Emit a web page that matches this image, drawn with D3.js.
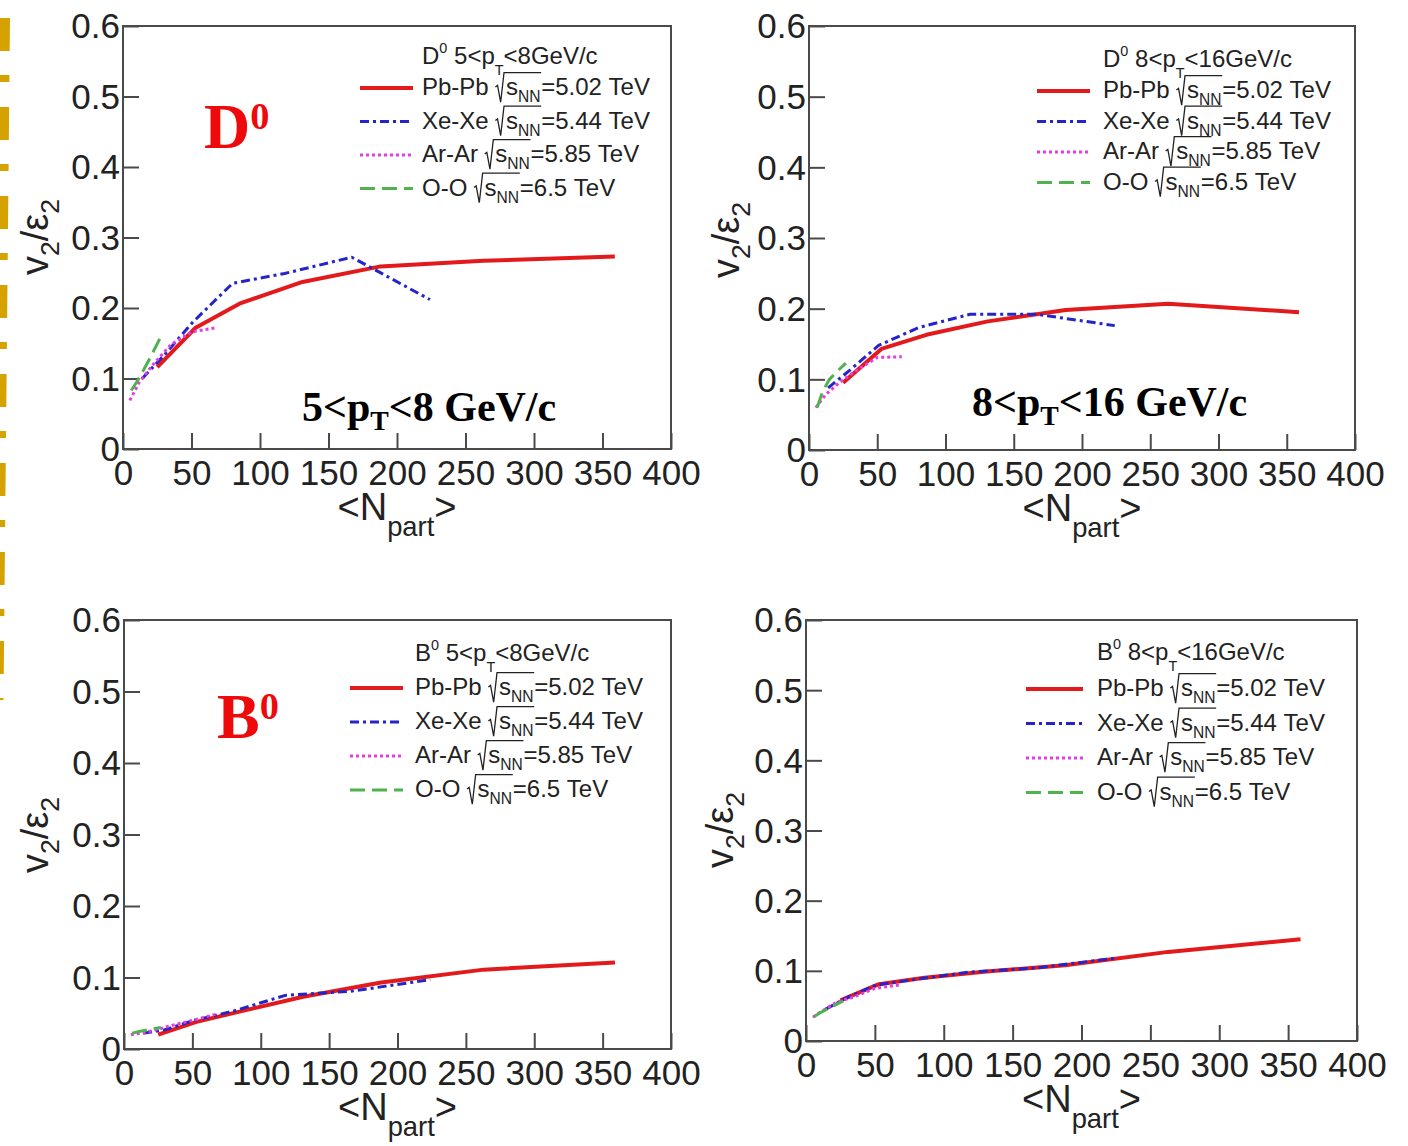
<!DOCTYPE html>
<html>
<head>
<meta charset="utf-8">
<script src="https://cdn.jsdelivr.net/npm/d3@7"></script>
<style>
  html, body { margin: 0; padding: 0; background: #fff; }
  svg { display: block; }
</style>
</head>
<body>
<svg id="chart" width="1408" height="1146"></svg>
<script>
// Mean number of participants at each centrality point, per collision system
const nPartPbPb = [25, 53, 86, 131, 188, 263, 359];
const nPartXeXe = [14, 30, 51, 80, 118, 167, 224];
const nPartArAr = [5, 12, 22, 35, 50, 68];
const nPartOO   = [6, 10, 15, 20, 27];

// v2/eps2 of D0, 5<pT<8 GeV/c
const d0LowPbPb = [0.116, 0.172, 0.207, 0.237, 0.259, 0.267, 0.273];
const d0LowXeXe = [0.100, 0.133, 0.180, 0.235, 0.249, 0.272, 0.212];
const d0LowArAr = [0.069, 0.095, 0.120, 0.148, 0.166, 0.172];
const d0LowOO   = [0.083, 0.095, 0.112, 0.130, 0.157];

// v2/eps2 of D0, 8<pT<16 GeV/c
const d0HighPbPb = [0.095, 0.143, 0.163, 0.182, 0.198, 0.207, 0.195];
const d0HighXeXe = [0.088, 0.113, 0.148, 0.173, 0.192, 0.192, 0.176];
const d0HighArAr = [0.060, 0.078, 0.095, 0.113, 0.131, 0.132];
const d0HighOO   = [0.060, 0.083, 0.100, 0.110, 0.123];

// v2/eps2 of B0, 5<pT<8 GeV/c
const b0LowPbPb = [0.020, 0.038, 0.053, 0.073, 0.093, 0.111, 0.121];
const b0LowXeXe = [0.022, 0.027, 0.040, 0.053, 0.075, 0.081, 0.097];
const b0LowArAr = [0.020, 0.022, 0.026, 0.033, 0.040, 0.049];
const b0LowOO   = [0.022, 0.024, 0.026, 0.028, 0.030];

// v2/eps2 of B0, 8<pT<16 GeV/c
const b0HighPbPb = [0.058, 0.081, 0.090, 0.099, 0.108, 0.127, 0.145];
const b0HighXeXe = [0.045, 0.062, 0.080, 0.088, 0.098, 0.104, 0.118];
const b0HighArAr = [0.034, 0.043, 0.055, 0.063, 0.075, 0.080];
const b0HighOO   = [0.035, 0.040, 0.045, 0.050, 0.057];

// Axis ticks and legend text
const xTickValues = [0, 50, 100, 150, 200, 250, 300, 350, 400];
const yTickValues = [0, 0.1, 0.2, 0.3, 0.4, 0.5, 0.6];
const systemNames = ["Pb-Pb", "Xe-Xe", "Ar-Ar", "O-O"];
const systemEnergies = ["5.02", "5.44", "5.85", "6.5"];
const systemNpart = [nPartPbPb, nPartXeXe, nPartArAr, nPartOO];

// Line style per system: Pb-Pb solid, Xe-Xe dash-dot, Ar-Ar dotted, O-O dashed
const lineStyles = [
  { color: "#e31a1c", width: 4,   dash: null },
  { color: "#2424c8", width: 3,   dash: "9,4,3,4" },
  { color: "#e23ee2", width: 3,   dash: "3,3" },
  { color: "#4fb24f", width: 3,   dash: "15,7" }
];

const sans = "'Liberation Sans', Arial, Helvetica, sans-serif";
const serif = "'Liberation Serif', 'Times New Roman', serif";
const inkColor = "#222";
const frameColor = "#4a4a4a";
const NBSP = "\u00a0";

// Panel layout on the page
const panels = [
  { x0: 123, x1: 671, yTop: 26, yBot: 449, meson: "D", ptLo: "5", ptHi: "8",
    series: [d0LowPbPb, d0LowXeXe, d0LowArAr, d0LowOO],
    legend: { sx0: 360, sx1: 413, tx: 422, hy: 64, row0: 88, step: 33.5 },
    yTitle: { x: 48, y: 237 },
    big: { x: 204, y: 148, t: "D" },
    ptLabel: { x: 302, y: 421 } },
  { x0: 809, x1: 1355, yTop: 26, yBot: 450, meson: "D", ptLo: "8", ptHi: "16",
    series: [d0HighPbPb, d0HighXeXe, d0HighArAr, d0HighOO],
    legend: { sx0: 1037, sx1: 1090, tx: 1103, hy: 67, row0: 91, step: 30.5 },
    yTitle: { x: 739, y: 240 },
    big: null,
    ptLabel: { x: 972, y: 416 } },
  { x0: 124, x1: 671, yTop: 620, yBot: 1049, meson: "B", ptLo: "5", ptHi: "8",
    series: [b0LowPbPb, b0LowXeXe, b0LowArAr, b0LowOO],
    legend: { sx0: 350, sx1: 403, tx: 415, hy: 661, row0: 688, step: 34 },
    yTitle: { x: 48, y: 835 },
    big: { x: 217, y: 738, t: "B" },
    ptLabel: null },
  { x0: 806, x1: 1357, yTop: 620, yBot: 1041, meson: "B", ptLo: "8", ptHi: "16",
    series: [b0HighPbPb, b0HighXeXe, b0HighArAr, b0HighOO],
    legend: { sx0: 1026, sx1: 1083, tx: 1097, hy: 660, row0: 689, step: 34.5 },
    yTitle: { x: 733, y: 830 },
    big: null,
    ptLabel: null }
];

const svg = d3.select("#chart");

// Draws a run of text pieces (with optional sub/superscripts and a radical) left to right.
function textRun(g, x, y, runs, base) {
  let cx = x;
  runs.forEach(r => {
    if (r.radical) {
      const s = base.size;
      const startX = cx;
      cx = textRun(g, cx + 0.44 * s, y, r.radical, base);
      g.append("path")
        .attr("d", `M${startX},${y - 0.33 * s} L${startX + 0.09 * s},${y - 0.4 * s} ` +
                   `L${startX + 0.22 * s},${y + 0.3 * s} L${startX + 0.36 * s},${y - 0.93 * s} H${cx + 0.03 * s}`)
        .attr("fill", "none").attr("stroke", base.color).attr("stroke-width", 1.3);
      cx += 0.03 * s;
      return;
    }
    const size = base.size * (r.scale || 1);
    const t = g.append("text")
      .attr("x", cx).attr("y", y + (r.dy || 0) * base.size)
      .attr("font-size", size)
      .attr("font-family", base.family)
      .attr("font-weight", base.weight || "normal")
      .attr("fill", base.color)
      .text(r.t.replace(/ /g, NBSP));
    cx += t.node().getComputedTextLength();
  });
  return cx;
}

// Orange dash-dot separator along the left edge
svg.append("line")
  .attr("x1", 4.5).attr("y1", 18).attr("x2", -2).attr("y2", 700)
  .attr("stroke", "#d6a200").attr("stroke-width", 11)
  .attr("stroke-dasharray", "33,24,7,25");

panels.forEach(p => {
  const g = svg.append("g");
  const x = d3.scaleLinear().domain([0, 400]).range([p.x0, p.x1]);
  const y = d3.scaleLinear().domain([0, 0.6]).range([p.yBot, p.yTop]);

  // frame
  g.append("rect")
    .attr("x", p.x0).attr("y", p.yTop)
    .attr("width", p.x1 - p.x0).attr("height", p.yBot - p.yTop)
    .attr("fill", "none").attr("stroke", frameColor).attr("stroke-width", 2);

  // x axis, ticks pointing into the frame
  const xAxis = g.append("g")
    .attr("transform", `translate(0,${p.yBot})`)
    .call(d3.axisBottom(x).tickValues(xTickValues).tickSize(-16).tickSizeOuter(0).tickPadding(11)
      .tickFormat(d3.format("d")));
  // y axis
  const yAxis = g.append("g")
    .attr("transform", `translate(${p.x0},0)`)
    .call(d3.axisLeft(y).tickValues(yTickValues).tickSize(-16).tickSizeOuter(0).tickPadding(3)
      .tickFormat(v => v === 0 ? "0" : v.toFixed(1)));
  [xAxis, yAxis].forEach(a => {
    a.select(".domain").remove();
    a.selectAll(".tick line").attr("stroke", frameColor).attr("stroke-width", 2);
    a.selectAll(".tick text")
      .attr("font-family", sans).attr("font-size", 35).attr("fill", inkColor);
  });
  yAxis.selectAll(".tick text").attr("dy", "0.34em");

  // x-axis title <N_part>, centred under the axis
  const xt = g.append("g");
  const xw = textRun(xt, 0, 0, [
    { t: "<N" }, { t: "part", scale: 0.72, dy: 0.42 }, { t: ">" }
  ], { size: 38, family: sans, color: inkColor });
  xt.attr("transform", `translate(${(p.x0 + p.x1) / 2 - xw / 2},${p.yBot + 71})`);

  // y-axis title v2/eps2, rotated
  const yt = g.append("g");
  const yw = textRun(yt, 0, 0, [
    { t: "v" }, { t: "2", scale: 0.7, dy: 0.3 }, { t: "/ε" }, { t: "2", scale: 0.7, dy: 0.3 }
  ], { size: 38, family: sans, color: inkColor });
  yt.attr("transform", `translate(${p.yTitle.x},${p.yTitle.y}) rotate(-90) translate(${-yw / 2},0)`);

  // curves
  const line = d3.line().x(d => x(d[0])).y(d => y(d[1]));
  p.series.forEach((vals, i) => {
    const pts = systemNpart[i].map((n, k) => [n, vals[k]]);
    const st = lineStyles[i];
    g.append("path")
      .datum(pts)
      .attr("d", line)
      .attr("fill", "none")
      .attr("stroke", st.color)
      .attr("stroke-width", st.width)
      .attr("stroke-linejoin", "round")
      .attr("stroke-dasharray", st.dash);
  });

  // legend header and entries
  const L = p.legend;
  const base = { size: 24, family: sans, color: inkColor };
  textRun(g, L.tx, L.hy, [
    { t: p.meson }, { t: "0", scale: 0.6, dy: -0.45 }, { t: " " + p.ptLo + "<p" },
    { t: "T", scale: 0.6, dy: 0.45 }, { t: "<" + p.ptHi + "GeV/c" }
  ], base);
  systemNames.forEach((name, i) => {
    const ly = L.row0 + i * L.step;
    const st = lineStyles[i];
    g.append("line")
      .attr("x1", L.sx0).attr("x2", L.sx1).attr("y1", ly).attr("y2", ly)
      .attr("stroke", st.color).attr("stroke-width", st.width)
      .attr("stroke-dasharray", st.dash);
    textRun(g, L.tx, ly + 7, [
      { t: name + " " },
      { radical: [{ t: "s" }, { t: "NN", scale: 0.65, dy: 0.3 }] },
      { t: "=" + systemEnergies[i] + " TeV" }
    ], base);
  });

  // big meson label
  if (p.big) {
    textRun(g, p.big.x, p.big.y, [
      { t: p.big.t }, { t: "0", scale: 0.6, dy: -0.3 }
    ], { size: 64, family: serif, weight: "bold", color: "#ee0a0a" });
  }

  // pT range label
  if (p.ptLabel) {
    textRun(g, p.ptLabel.x, p.ptLabel.y, [
      { t: p.ptLo + "<p" }, { t: "T", scale: 0.66, dy: 0.22 }, { t: "<" + p.ptHi + " GeV/c" }
    ], { size: 42, family: serif, weight: "bold", color: "#000" });
  }
});
</script>
</body>
</html>
